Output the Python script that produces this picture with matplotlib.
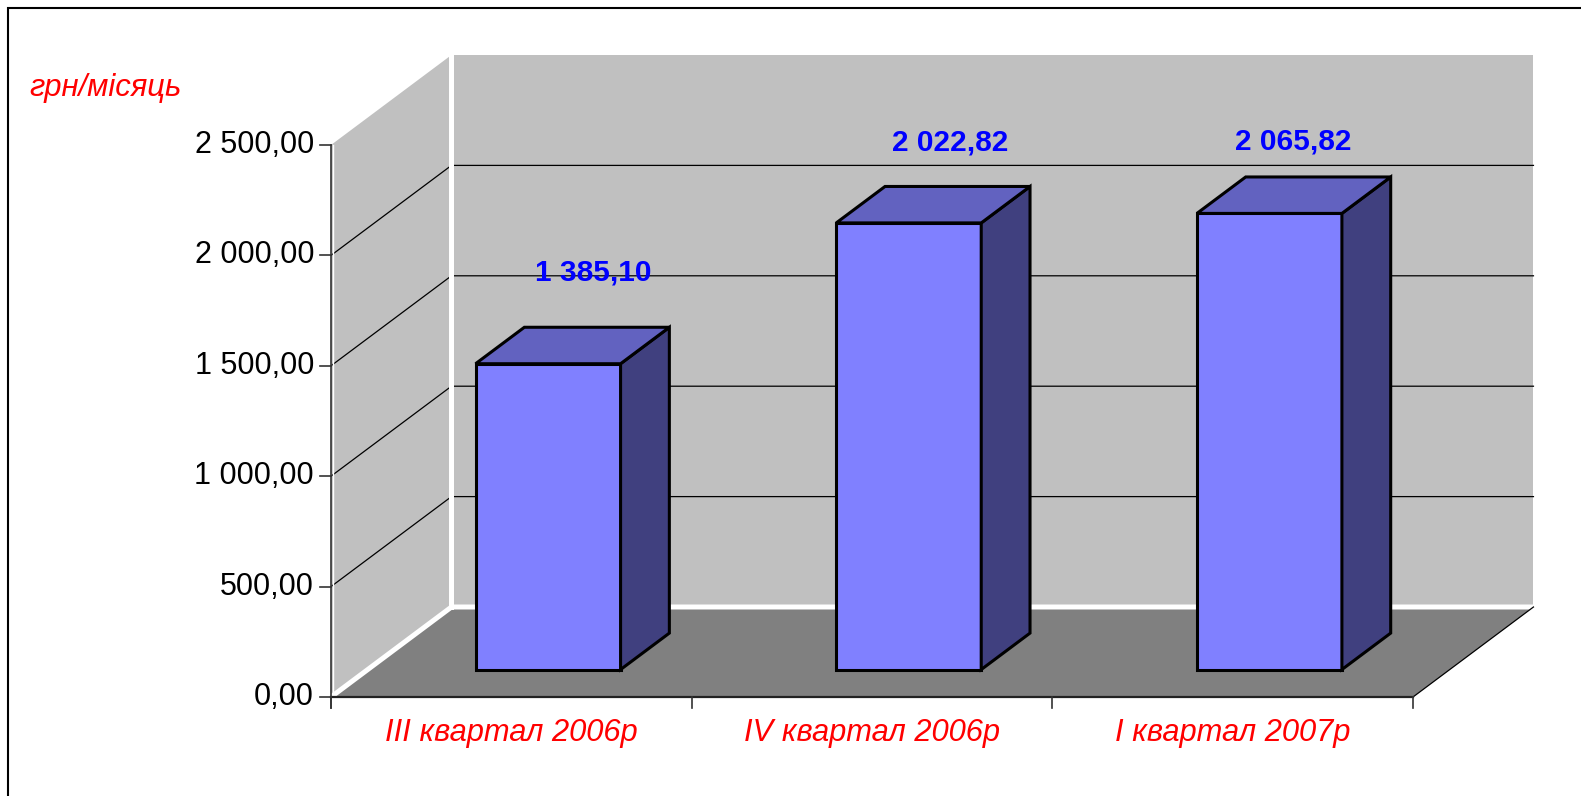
import matplotlib
matplotlib.use("Agg")
import matplotlib.pyplot as plt
from matplotlib.patches import Polygon, Rectangle

plt.rcParams['font.family'] = ['Liberation Sans', 'DejaVu Sans']

# data
categories = ["III квартал 2006р", "IV квартал 2006р", "I квартал 2007р"]
values = [1385.10, 2022.82, 2065.82]
value_labels = ["1 385,10", "2 022,82", "2 065,82"]
y_ticks = [0, 500, 1000, 1500, 2000, 2500]
y_tick_labels = ["0,00", "500,00", "1 000,00", "1 500,00", "2 000,00", "2 500,00"]
unit_label = "грн/місяць"

# style / layout
W, H = 1581, 796
DX, DY = 0.334, 407.6          # depth shift of the 3d box in data units
Z0, Z1 = 0.305, 0.71           # bar front/back inside the depth
BAR_W = 0.402
label_nudge = [(82, 119), (78, 108), (61, 99)]   # pixels from front top of bar
front_c, top_c, side_c = "#8080FF", "#6262C0", "#40407F"
wall_c, floor_c = "#C0C0C0", "#808080"

fig = plt.figure(figsize=(W / 100, H / 100), dpi=100)
ax = fig.add_axes([0, 0, 1, 1])
ax.axis("off")
# front plane: x 0..3 -> px 331..1413, y 0..2500 -> px 697..145
px_x = 1082 / 3
px_y = 552 / 2500
ax.set_xlim(-331 / px_x, (W - 331) / px_x)
ax.set_ylim(-(H - 697) / px_y, 697 / px_y)

n = len(categories)
ymax = y_ticks[-1]

# walls and floor
ax.add_patch(Polygon([(DX, DY), (n + DX, DY), (n + DX, ymax + DY), (DX, ymax + DY)],
                     closed=True, fc=wall_c, ec="none", zorder=1))
ax.add_patch(Polygon([(0, 0), (DX, DY), (DX, ymax + DY), (0, ymax)],
                     closed=True, fc=wall_c, ec="none", zorder=1))
ax.add_patch(Polygon([(0, 0), (n, 0), (n + DX, DY), (DX, DY)],
                     closed=True, fc=floor_c, ec="none", zorder=1))

# gridlines
for t in y_ticks[1:-1]:
    ax.plot([0, DX, n + DX], [t, t + DY, t + DY], color="black", lw=0.9, zorder=2)

# white wall edges
ax.plot([0, DX, n + DX], [0, DY, DY], color="white", lw=3.6, zorder=3,
        solid_capstyle="butt")
ax.plot([DX, DX], [DY, ymax + DY], color="white", lw=3.6, zorder=3)
ax.plot([0.006, 0.006], [0, ymax], color="white", lw=1.0, zorder=3)

# floor outline right side
ax.plot([n, n + DX], [0, DY], color="black", lw=0.9, zorder=3)

# bars
for i, v in enumerate(values):
    x0 = i + 0.5 - BAR_W / 2 + Z0 * DX
    x1 = x0 + BAR_W
    y0 = Z0 * DY
    y1 = v + Z0 * DY
    ddx = (Z1 - Z0) * DX
    ddy = (Z1 - Z0) * DY
    kw = dict(closed=True, ec="black", lw=2.2, joinstyle="miter", zorder=4)
    ax.add_patch(Polygon([(x0, y0), (x1, y0), (x1, y1), (x0, y1)], fc=front_c, **kw))
    ax.add_patch(Polygon([(x1, y0), (x1 + ddx, y0 + ddy), (x1 + ddx, y1 + ddy), (x1, y1)],
                         fc=side_c, **kw))
    ax.add_patch(Polygon([(x0, y1), (x1, y1), (x1 + ddx, y1 + ddy), (x0 + ddx, y1 + ddy)],
                         fc=top_c, **kw))
    ax.annotate(value_labels[i], (i + 0.5, v), xytext=label_nudge[i],
                textcoords="offset pixels", ha="center", va="center",
                color="#0000FF", fontsize=21.5, fontweight="bold", zorder=6)

# axes lines and ticks
tick_x = 11 / px_x
tick_y = 11 / px_y
ax.plot([0, 0], [-tick_y, ymax], color="#333333", lw=1.2, zorder=5)
ax.plot([0, n], [0, 0], color="#222222", lw=1.6, zorder=5)
for t, lab in zip(y_ticks, y_tick_labels):
    ax.plot([-tick_x, 0], [t, t], color="#333333", lw=1.2, zorder=5)
    ax.text(-tick_x - 6 / px_x, t, lab, ha="right", va="center",
            fontsize=22, color="black")
for i in range(n + 1):
    ax.plot([i, i], [-tick_y, 0], color="#333333", lw=1.2, zorder=5)
for i, c in enumerate(categories):
    ax.text(i + 0.5, -36 / px_y, c, ha="center", va="center", fontsize=22.2,
            style="italic", color="red")

ax.text(-302 / px_x, 609 / px_y, unit_label, ha="left", va="center",
        fontsize=22.3, style="italic", color="red")

# outer frame
fig.add_artist(Rectangle((8 / W, -0.05), 1.2, (H - 8) / H + 0.05, transform=fig.transFigure,
                         fill=False, ec="black", lw=1.5))

fig.savefig("out.png", dpi=100)
